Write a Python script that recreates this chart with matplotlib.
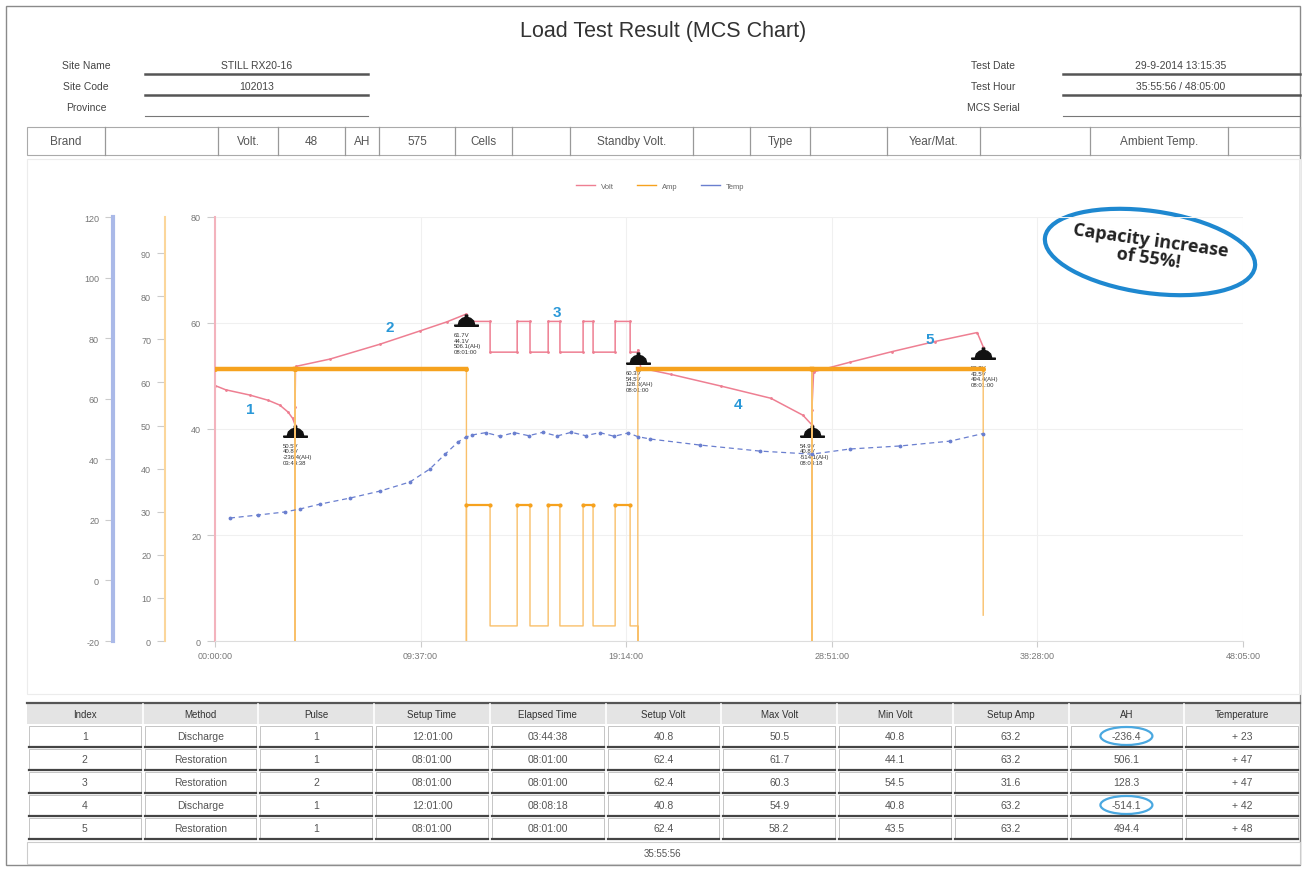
import numpy as np
import matplotlib.pyplot as plt
from matplotlib.patches import Rectangle, Ellipse
from matplotlib.path import Path
from matplotlib.lines import Line2D

plt.rcParams['font.family'] = ['Liberation Sans', 'DejaVu Sans']
plt.rcParams['axes.unicode_minus'] = False

W, H = 1305, 870

# header fields
site_fields = ["Site Name", "Site Code", "Province"]
site_values = ["STILL RX20-16", "102013", ""]
test_fields = ["Test Date", "Test Hour", "MCS Serial"]
test_values = ["29-9-2014 13:15:35", "35:55:56 / 48:05:00", ""]
battery_cells = ["Brand", "", "Volt.", "48", "AH", "575", "Cells", "",
                 "Standby Volt.", "", "Type", "", "Year/Mat.", "", "Ambient Temp.", ""]

# step summary table
columns = ["Index", "Method", "Pulse", "Setup Time", "Elapsed Time", "Setup Volt",
           "Max Volt", "Min Volt", "Setup Amp", "AH", "Temperature"]
index = [1, 2, 3, 4, 5]
method = ["Discharge", "Restoration", "Restoration", "Discharge", "Restoration"]
pulse = [1, 1, 2, 1, 1]
setup_time = ["12:01:00", "08:01:00", "08:01:00", "12:01:00", "08:01:00"]
elapsed = ["03:44:38", "08:01:00", "08:01:00", "08:08:18", "08:01:00"]
setup_volt = [40.8, 62.4, 62.4, 40.8, 62.4]
max_volt = [50.5, 61.7, 60.3, 54.9, 58.2]
min_volt = [40.8, 44.1, 54.5, 40.8, 43.5]
setup_amp = [63.2, 63.2, 31.6, 63.2, 63.2]
ah = [-236.4, 506.1, 128.3, -514.1, 494.4]
temperature = [23, 47, 47, 42, 48]
total_time = "35:55:56"
end_volt = [40.8, 61.7, 54.5, 40.8, 55.5]

# logged curves, time in minutes from start
volt_t = [0, 30, 98, 150, 182, 205, 218, 224.6,
          224.7, 226, 323, 463, 575, 650, 705.6,
          705.7, 772, 772.1, 848, 848.1, 884, 884.1, 935, 935.1, 968, 968.1,
          1033, 1033.1, 1061, 1061.1, 1123, 1123.1, 1165, 1165.1, 1186.6,
          1186.7, 1195, 1280, 1420, 1560, 1650, 1674.9,
          1675.0, 1680, 1782, 1900, 2020, 2139, 2155.9]
volt_v = [48.2, 47.4, 46.4, 45.4, 44.5, 43.2, 42.0, 40.8,
          44.1, 51.8, 53.2, 56.0, 58.5, 60.2, 61.7,
          60.3, 60.3, 54.5, 54.5, 60.3, 60.3, 54.5, 54.5, 60.3, 60.3, 54.5,
          54.5, 60.3, 60.3, 54.5, 54.5, 60.3, 60.3, 54.5, 54.5,
          54.9, 51.5, 50.3, 48.1, 45.8, 42.6, 40.8,
          43.5, 50.8, 52.6, 54.6, 56.5, 58.2, 55.5]

amp_t = [0, 224.6, 224.6, 224.7, 705.6, 705.6, 705.7, 772, 772, 848, 848,
         884, 884, 935, 935, 968, 968, 1033, 1033, 1061, 1061, 1123, 1123,
         1165, 1165, 1186.6, 1186.6, 1186.7, 1674.9, 1674.9, 1675.0, 2155.9, 2155.9]
amp_a = [63.2, 63.2, 0, 63.2, 63.2, 0, 31.6, 31.6, 3.5, 3.5, 31.6,
         31.6, 3.5, 3.5, 31.6, 31.6, 3.5, 3.5, 31.6, 31.6, 3.5, 3.5, 31.6,
         31.6, 3.5, 3.5, 0, 63.2, 63.2, 0, 63.2, 63.2, 6.0]

temp_t = [42, 121, 196, 239, 295, 379, 463, 547, 603, 646, 682, 704,
          720, 760, 800, 840, 880, 920, 960, 1000, 1040, 1080, 1120, 1160, 1186,
          1221, 1361, 1530, 1675,
          1782, 1923, 2063, 2155.9]
temp_c = [20.6, 21.6, 22.6, 23.6, 25.2, 27.2, 29.5, 32.5, 36.8, 41.7, 45.7, 47.3,
          48.0, 48.8, 47.6, 48.8, 47.8, 48.9, 47.7, 48.9, 47.8, 48.8, 47.6, 48.7, 47.5,
          46.7, 44.7, 42.7, 41.7,
          43.4, 44.4, 46.0, 48.5]

step_label_t = [98, 491, 960, 1468, 2007]
step_label_v = [43.8, 59.2, 62.1, 44.7, 57.0]

x_ticks = [0, 577, 1154, 1731, 2308, 2885]


def to_min(s):
    h, m, sec = (int(p) for p in s.split(":"))
    return h * 60 + m + sec / 60


def fmt_min(m):
    return f"{int(m) // 60:02d}:{int(m) % 60:02d}:00"


phase_end = np.cumsum([to_min(e) for e in elapsed])

fig = plt.figure(figsize=(W / 100, H / 100), dpi=100)

# page layer in pixel coordinates
page = fig.add_axes([0, 0, 1, 1], zorder=0)
page.set_xlim(0, W)
page.set_ylim(H, 0)
page.axis('off')

page.add_patch(Rectangle((6, 7), 1294, 859, fill=False, ec='#8a8a8a', lw=1))
page.text(663, 32, "Load Test Result (MCS Chart)", ha='center', va='center',
          fontsize=15.5, color='#333')

for i, (f, v) in enumerate(zip(site_fields, site_values)):
    y = 66 + i * 21
    page.text(86, y, f, ha='center', va='center', fontsize=7.5, color='#444')
    page.text(257, y, v, ha='center', va='center', fontsize=7.5, color='#444')
    page.plot([145, 368], [y + 9, y + 9], color='#555' if i < 2 else '#777',
              lw=1.8 if i < 2 else 0.8)
for i, (f, v) in enumerate(zip(test_fields, test_values)):
    y = 66 + i * 21
    page.text(993, y, f, ha='center', va='center', fontsize=7.5, color='#444')
    page.text(1181, y, v, ha='center', va='center', fontsize=7.5, color='#444')
    page.plot([1063, 1300], [y + 9, y + 9], color='#555' if i < 2 else '#777',
              lw=1.8 if i < 2 else 0.8)

# battery info row
edges = [27, 105, 218, 278, 345, 379, 455, 512, 570, 693, 750, 810, 887, 980, 1090, 1228, 1300]
page.add_patch(Rectangle((27, 128), 1273, 28, fill=False, ec='#aaa', lw=0.8))
for x0, x1, txt in zip(edges[:-1], edges[1:], battery_cells):
    page.plot([x1, x1], [128, 156], color='#999', lw=0.9)
    page.text((x0 + x1) / 2, 142, txt, ha='center', va='center', fontsize=8.5, color='#555')

# chart frame
page.add_patch(Rectangle((27, 160), 1273, 535, fill=False, ec='#ececec', lw=0.8))

# summary table
col_edges = np.linspace(27, 1300, len(columns) + 1)
page.plot([27, 1300], [704, 704], color='#555', lw=1.6)
page.add_patch(Rectangle((27, 705), 1273, 20, fc='#e4e4e4', ec='none'))
for j, c in enumerate(columns):
    cx = (col_edges[j] + col_edges[j + 1]) / 2
    page.text(cx, 715, c, ha='center', va='center', fontsize=7, color='#333')
    if j > 0:
        page.plot([col_edges[j]] * 2, [705, 725], color='#fff', lw=1.2)

rows = list(zip(index, method, pulse, setup_time, elapsed, setup_volt, max_volt,
                min_volt, setup_amp, ah, [f"+ {t}" for t in temperature]))
for r, row in enumerate(rows):
    y0 = 727 + r * 23
    for j, val in enumerate(row):
        x0, x1 = col_edges[j] + 2, col_edges[j + 1] - 2
        page.add_patch(Rectangle((x0, y0), x1 - x0, 20, fc='white', ec='#bbb', lw=0.6))
        page.plot([x0, x1], [y0 + 21, y0 + 21], color='#444', lw=1.6)
        page.text((x0 + x1) / 2, y0 + 10, str(val), ha='center', va='center',
                  fontsize=7.5, color='#555')
        if columns[j] == "AH" and val < 0:
            page.add_patch(Ellipse(((x0 + x1) / 2, y0 + 10), 52, 18, fill=False,
                                   ec='#4aa8e0', lw=1.6))
page.add_patch(Rectangle((27, 843), 1273, 22, fc='white', ec='#ccc', lw=0.8))
page.text(663, 854, total_time, ha='center', va='center', fontsize=7, color='#555')

# capacity note
page.add_patch(Ellipse((1150, 253), 212, 82, angle=8, fill=False, ec='#1e88d0', lw=3))
page.text(1150, 250, "Capacity increase\nof 55%!", ha='center', va='center',
          rotation=-8, fontsize=13, fontweight='bold', family=['Open Sans', 'DejaVu Sans'],
          color='#222', linespacing=0.95)

# chart axes, extra y axes sit 50 px and 102 px left of the volt axis
ax_v = fig.add_axes([215 / W, 1 - 642 / H, 1028 / W, 424 / H], zorder=2)
ax_v.patch.set_alpha(0)
ax_a = ax_v.twinx()
ax_t = ax_v.twinx()

px = 72 / 100
for ax, off, col, lw in [(ax_v, 0, '#f3b3bd', 1.5), (ax_a, 50 * px, '#fbd69b', 1.5),
                         (ax_t, 102 * px, '#aab9e8', 3)]:
    for s in ax.spines.values():
        s.set_visible(False)
    ax.spines['left'].set_visible(True)
    ax.spines['left'].set_color(col)
    ax.spines['left'].set_linewidth(lw)
    ax.spines['left'].set_position(('outward', off))
    ax.yaxis.set_ticks_position('left')
    ax.tick_params(axis='y', colors='#cccccc', labelcolor='#777', labelsize=6.5,
                   length=6, pad=4)

ax_v.spines['bottom'].set_visible(True)
ax_v.spines['bottom'].set_color('#dddddd')
ax_v.set_ylim(0, 80)
ax_v.set_yticks([0, 20, 40, 60, 80])
ax_a.set_ylim(0, 98.4)
ax_a.set_yticks(range(0, 100, 10))
ax_t.set_ylim(-20, 120)
ax_t.set_yticks(range(-20, 140, 20))

ax_v.set_xlim(0, 2885)
ax_v.set_xticks(x_ticks)
ax_v.set_xticklabels([fmt_min(m) for m in x_ticks])
ax_v.tick_params(axis='x', colors='#cccccc', labelcolor='#777', labelsize=6.5, length=4)
ax_v.grid(color='#f0f0f0', lw=0.8)
ax_v.set_axisbelow(True)

volt_c, amp_c, temp_col = '#ee7f92', '#f6a21e', '#6a7fcf'

ax_t.plot(temp_t, temp_c, color=temp_col, lw=0.9, ls=(0, (4, 3)), marker='.', ms=3.5)

amp = np.array(amp_a)
ax_a.plot(amp_t, amp, color='#f9c06a', lw=1.0)
ax_a.plot(amp_t, np.ma.masked_where(amp != 63.2, amp), color=amp_c, lw=3.2,
          marker='o', ms=2.5)
ax_a.plot(amp_t, np.ma.masked_where(amp != 31.6, amp), color=amp_c, lw=1.6,
          marker='o', ms=2)

ax_v.plot(volt_t, volt_v, color=volt_c, lw=1.1, marker='.', ms=2)

# step end pins
pin = Path([(-1.0, -1.0), (1.0, -1.0), (1.0, -0.9), (0.7, -0.9), (0.6, -0.55),
            (0.35, -0.33), (0.1, -0.25), (0.1, -0.05), (-0.1, -0.05), (-0.1, -0.25),
            (-0.35, -0.33), (-0.6, -0.55), (-0.7, -0.9), (-1.0, -0.9), (-1.0, -1.0)])
for i in range(len(phase_end)):
    ax_v.plot(phase_end[i], end_volt[i], marker=pin, ms=17, color='#111', zorder=6)
    ax_v.annotate(f"{max_volt[i]}V\n{min_volt[i]}V\n{ah[i]}(AH)\n{elapsed[i]}",
                  (phase_end[i], end_volt[i]), xytext=(-9, -13), textcoords='offset points',
                  ha='left', va='top', fontsize=4.3, color='#333', linespacing=1.15,
                  zorder=6)

for n, (t, v) in enumerate(zip(step_label_t, step_label_v), start=1):
    ax_v.text(t, v, str(n), ha='center', va='center', fontsize=11, fontweight='bold',
              color='#2a98d8', zorder=6)

handles = [Line2D([], [], color=volt_c, lw=1), Line2D([], [], color=amp_c, lw=1),
           Line2D([], [], color=temp_col, lw=1)]
fig.legend(handles, ["Volt", "Amp", "Temp"], loc='center',
           bbox_to_anchor=(660 / W, 1 - 187 / H), ncol=3, frameon=False,
           fontsize=5.5, handlelength=2.5, columnspacing=3, labelcolor='#666')

fig.savefig("out.png", dpi=100)
